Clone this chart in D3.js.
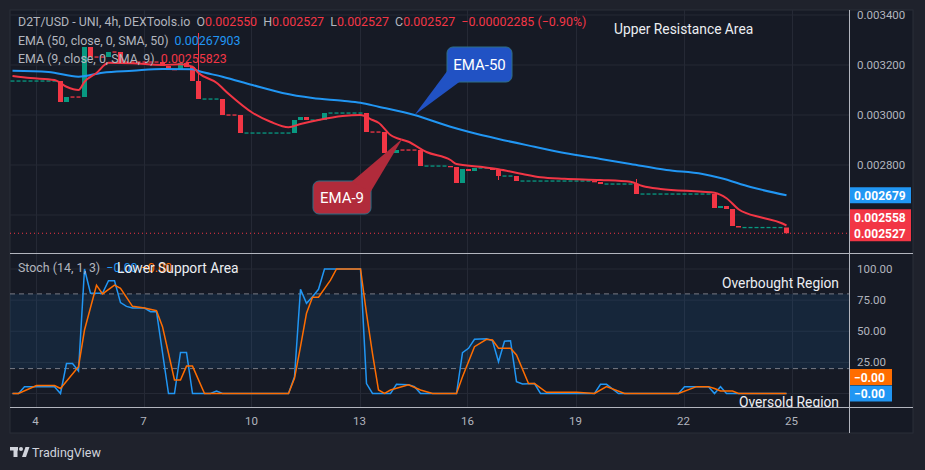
<!DOCTYPE html>
<meta charset="utf-8">
<style>
body { margin: 0; background: #1f222c; }
svg text { font-family: Roboto, "Noto Sans", sans-serif; }
</style>
<body>
<svg id="chart" width="925" height="470"></svg>
<script src="https://d3js.org/d3.v7.min.js"></script>
<script>

// ---- data (4h bars, bar 0 = day 4 00:00) ----
var firstBar = -4;
var closes = [
  0.003136, 0.003136, 0.003136, 0.003136, 0.003136, 0.003136, 0.003136, 0.003136, // -4..3
  0.003052, 0.003072, 0.003072, 0.003072, 0.003272, 0.003232, 0.003232, 0.003232, // 4..11
  0.003252, 0.003252, 0.003212, 0.003212, 0.003212, 0.003212, 0.003212, 0.003212, // 12..19
  0.003212, 0.003196, 0.003184, 0.00318, 0.003208, 0.003192, 0.003136, 0.003064,   // 20..27
  0.003064, 0.003064, 0.003064, 0.003, 0.003, 0.003, 0.002928, 0.002928,           // 28..35
  0.002928, 0.002928, 0.002928, 0.002928, 0.002928, 0.002928, 0.002928, 0.00298,   // 36..43
  0.002992, 0.00298, 0.00298, 0.00298, 0.003008, 0.003008, 0.003008, 0.003008,     // 44..51
  0.003008, 0.003008, 0.003008, 0.002932, 0.002932, 0.002932, 0.002848, 0.002848, // 52..59
  0.00286, 0.00286, 0.00286, 0.00286, 0.002796, 0.002796, 0.002796, 0.002796,      // 60..67
  0.002796, 0.002792, 0.002728, 0.002784, 0.002776, 0.002788, 0.002788, 0.002788, // 68..75
  0.00278, 0.002756, 0.002756, 0.002756, 0.002736, 0.002736, 0.002736, 0.002736,   // 76..83
  0.002736, 0.002736, 0.002736, 0.002736, 0.002736, 0.002736, 0.002736, 0.002736, // 84..91
  0.002736, 0.002732, 0.002724, 0.002724, 0.002724, 0.002724, 0.002724, 0.002724, // 92..99
  0.002684, 0.002684, 0.002684, 0.002684, 0.002684, 0.002684, 0.002684, 0.002684, // 100..107
  0.002684, 0.002684, 0.002684, 0.002684, 0.002684, 0.002628, 0.002636, 0.002624, // 108..115
  0.002556, 0.00255, 0.00255, 0.00255, 0.00255, 0.00255, 0.00255, 0.00255,         // 116..123
  0.00255, 0.002527                                                                // 124..125
];
var redDojiBars = [6, 7, 10, 11, 13, 15, 16, 17, 18, 19, 20, 32, 33, 56, 57, 61, 62, 63];
var wickBars = [27, 77, 100];
var wickEnds = [0.003328, 0.00274, 0.002744];

var ema50Bars = [-4, 2, 7, 11, 16, 21, 26, 27, 31, 36, 41, 46, 51, 54, 57, 63, 69, 72, 77, 83, 88, 94, 99, 105, 111, 114, 119, 125];
var ema50 = [0.003177, 0.003172, 0.003153, 0.003169, 0.003177, 0.003184, 0.003183, 0.003176, 0.003153, 0.00312,
  0.003088, 0.003068, 0.003057, 0.003049, 0.003033, 0.003, 0.002953, 0.002933, 0.002904, 0.002873,
  0.002848, 0.002824, 0.002804, 0.00278, 0.002764, 0.002748, 0.002712, 0.002679];

var ema9Bars = [-4, -1, 3, 5, 7, 8, 10, 12, 16, 21, 24, 26, 27, 30, 32, 36, 39, 42, 44, 47, 51, 54, 56, 57, 59, 62, 65,
  69, 70, 74, 77, 81, 84, 88, 94, 99, 101, 104, 111, 113, 115, 117, 121, 124, 125];
var ema9 = [0.003156, 0.003148, 0.00314, 0.003113, 0.0031, 0.003133, 0.003168, 0.003209, 0.003207, 0.0032,
  0.003203, 0.003193, 0.003168, 0.003129, 0.003085, 0.003009, 0.002973, 0.002951, 0.002964, 0.00298,
  0.002996, 0.003, 0.00298, 0.002969, 0.00292, 0.002893, 0.002852, 0.00282, 0.002804, 0.002793,
  0.002783, 0.002764, 0.002751, 0.002745, 0.00274, 0.002733, 0.002716, 0.002704, 0.002693, 0.002689,
  0.002667, 0.002623, 0.002589, 0.002569, 0.002558];

var kBars = [-4, -3, -2, 0, 3, 4, 5, 6, 7, 8, 9, 11, 12, 13, 14, 15, 16, 18, 19, 20, 22, 23, 24, 25, 26, 29, 30, 31, 42, 43,
  44, 45, 46, 47, 48, 54, 55, 56, 59, 60, 62, 63, 64, 70, 71, 72, 73, 75, 76, 77, 78, 79, 80, 81, 83, 84, 93, 94, 95, 97,
  107, 108, 112, 113, 114, 115, 125];
var stochK = [0, 0, 5.5, 5.5, 5.5, 0, 24, 24, 18, 100, 80.5, 80.5, 90.6, 90.6, 73, 70, 68.6, 68.6, 65.7, 65.7,
  0, 0, 33, 33, 0, 0, 2, 0, 0, 13.5, 83.7, 72.4, 77.8, 83.7, 100, 100, 8, 0, 0, 7.4,
  7, 5.5, 0, 0, 32.8, 36.3, 43.5, 44, 42.4, 25.5, 42, 42.4, 9.5, 7.6, 8, 0, 0, 7.4, 7.4, 0,
  0, 5.5, 5.5, 0, 5.5, 0, 0];

var dBars = [-4, -3, 0, 3, 4, 7, 8, 10, 11, 13, 14, 16, 18, 20, 21, 22, 23, 24, 25, 26, 28, 42, 43, 44, 45, 46, 47, 49, 50, 54,
  55, 56, 57, 58, 59, 62, 64, 66, 70, 71, 73, 75, 76, 77, 79, 80, 82, 83, 85, 90, 93, 95, 98, 107, 110, 112, 113, 114, 116, 117, 125];
var stochD = [0, 0, 6.4, 6.4, 4, 21.5, 51, 87, 80, 87, 84.5, 70, 68.6, 66.5, 53.7, 32.3, 10.8, 10.8, 22, 22,
  0, 0, 12.2, 37.6, 64.4, 77.3, 77.3, 91, 100, 100, 64.4, 32, 2.8, 0, 2.8, 7, 2.8, 0, 0, 13.5,
  37.6, 43.5, 43, 36.3, 36.3, 31, 8, 8, 1, 1, 0, 5.5, 0, 0, 5.5, 5.5, 4, 2, 2, 0, 0];

var dayLabels = [4, 7, 10, 13, 16, 19, 22, 25];
var priceTicks = [0.0026, 0.0028, 0.003, 0.0032, 0.0034];
var stochTicks = [0, 25, 50, 75, 100];

// ---- layout ----
var plotLeft = 10, plotRight = 849, frameRight = 913, plotTop = 10;
var mainBottom = 253, stochBottom = 407, frameBottom = 433;
var upColor = '#089981', downColor = '#f23645';
var blue = '#2196f3', orange = '#ff6d00';
var gridColor = '#252935', axisText = '#b2b5be', lineColor = '#b2b5be';

var svg = d3.select('#chart');

var x = d3.scaleLinear().domain([0, 125]).range([36.5, 786.5]);
var y = d3.scaleLinear().domain([0.0026, 0.0034]).range([215, 15]);
var ys = d3.scaleLinear().domain([0, 100]).range([393.5, 269]);

// frame
svg.append('rect').attr('x', 0).attr('y', 0).attr('width', 925).attr('height', 470).attr('fill', '#1f222c');
svg.append('rect').attr('x', plotLeft).attr('y', plotTop).attr('width', frameRight - plotLeft).attr('height', frameBottom - plotTop)
  .attr('fill', '#161a25').attr('stroke', '#2a2e39');

var defs = svg.append('defs');
defs.append('clipPath').attr('id', 'clipMain').append('rect')
  .attr('x', plotLeft).attr('y', plotTop).attr('width', plotRight - plotLeft).attr('height', mainBottom - plotTop);
defs.append('clipPath').attr('id', 'clipStoch').append('rect')
  .attr('x', plotLeft).attr('y', mainBottom).attr('width', plotRight - plotLeft).attr('height', stochBottom - mainBottom);

// grid
var grid = svg.append('g');
dayLabels.forEach(function(d) {
  var gx = Math.round(x((d - 4) * 6)) - 0.5;
  grid.append('line').attr('x1', gx).attr('x2', gx).attr('y1', plotTop).attr('y2', stochBottom)
    .attr('stroke', gridColor);
});
priceTicks.forEach(function(p) {
  grid.append('line').attr('x1', plotLeft).attr('x2', plotRight).attr('y1', y(p)).attr('y2', y(p)).attr('stroke', gridColor);
});
stochTicks.forEach(function(v) {
  grid.append('line').attr('x1', plotLeft).attr('x2', plotRight).attr('y1', ys(v)).attr('y2', ys(v)).attr('stroke', gridColor);
});

// ---- main pane ----
var main = svg.append('g').attr('clip-path', 'url(#clipMain)');

var bars = closes.map(function(c, i) {
  var o = i > 0 ? closes[i - 1] : c;
  var b = firstBar + i;
  var doji = Math.abs(c - o) < 1e-9;
  var col = doji ? (redDojiBars.indexOf(b) >= 0 ? downColor : upColor) : (c > o ? upColor : downColor);
  return {bar: b, open: o, close: c, doji: doji, color: col};
});

wickBars.forEach(function(b, i) {
  var d = bars[b - firstBar];
  main.append('line').attr('x1', x(b)).attr('x2', x(b))
    .attr('y1', y(d.open)).attr('y2', y(wickEnds[i])).attr('stroke', d.color).attr('stroke-width', 1);
});

main.selectAll('rect.candle').data(bars).enter().append('rect')
  .attr('class', 'candle')
  .attr('x', function(d) { return x(d.bar) - (d.doji ? 2 : 2.5); })
  .attr('width', function(d) { return d.doji ? 4 : 5; })
  .attr('y', function(d) { return d.doji ? y(d.close) - 0.6 : y(Math.max(d.open, d.close)); })
  .attr('height', function(d) { return d.doji ? 1.3 : Math.max(1.3, Math.abs(y(d.open) - y(d.close))); })
  .attr('fill', function(d) { return d.color; });

var emaLine = d3.line().curve(d3.curveMonotoneX)
  .x(function(d) { return x(d[0]); }).y(function(d) { return y(d[1]); });

main.append('path').datum(d3.zip(ema50Bars, ema50)).attr('d', emaLine)
  .attr('fill', 'none').attr('stroke', blue).attr('stroke-width', 2);
main.append('path').datum(d3.zip(ema9Bars, ema9)).attr('d', emaLine)
  .attr('fill', 'none').attr('stroke', downColor).attr('stroke-width', 2);

var lastClose = closes[closes.length - 1];
main.append('line').attr('x1', plotLeft).attr('x2', plotRight).attr('y1', y(lastClose)).attr('y2', y(lastClose))
  .attr('stroke', downColor).attr('stroke-dasharray', '1,3');

// ---- stoch pane ----
var st = svg.append('g').attr('clip-path', 'url(#clipStoch)');
st.append('rect').attr('x', plotLeft).attr('width', plotRight - plotLeft)
  .attr('y', ys(80)).attr('height', ys(20) - ys(80)).attr('fill', 'rgba(33,150,243,0.1)');
[80, 20].forEach(function(v) {
  st.append('line').attr('x1', plotLeft).attr('x2', plotRight).attr('y1', ys(v)).attr('y2', ys(v))
    .attr('stroke', '#787b86').attr('stroke-dasharray', '5,4');
});
var stLine = d3.line().x(function(d) { return x(d[0]); }).y(function(d) { return ys(d[1]); });
st.append('path').datum(d3.zip(kBars, stochK)).attr('d', stLine)
  .attr('fill', 'none').attr('stroke', blue).attr('stroke-width', 1.5);
st.append('path').datum(d3.zip(dBars, stochD)).attr('d', stLine)
  .attr('fill', 'none').attr('stroke', orange).attr('stroke-width', 1.5);

// pane separators
svg.append('line').attr('x1', plotLeft).attr('x2', frameRight).attr('y1', mainBottom + 0.5).attr('y2', mainBottom + 0.5).attr('stroke', lineColor);
svg.append('line').attr('x1', plotLeft).attr('x2', frameRight).attr('y1', stochBottom + 0.5).attr('y2', stochBottom + 0.5).attr('stroke', lineColor);
svg.append('line').attr('x1', plotRight + 0.5).attr('x2', plotRight + 0.5).attr('y1', plotTop).attr('y2', frameBottom).attr('stroke', lineColor);

// ---- axes ----
var axG = svg.append('g').attr('font-size', 11.5).attr('fill', axisText);
priceTicks.slice(1).forEach(function(p) {
  axG.append('text').attr('x', 857).attr('y', y(p) + 4).text(d3.format('.6f')(p));
});
stochTicks.slice(1).forEach(function(v) {
  axG.append('text').attr('x', 857).attr('y', ys(v) + 4).text(d3.format('.2f')(v));
});
dayLabels.forEach(function(d) {
  axG.append('text').attr('x', x((d - 4) * 6) - 1).attr('y', 425).attr('text-anchor', 'middle').text(d);
});

function priceTag(cy, w, col, label) {
  svg.append('rect').attr('x', plotRight + 1).attr('y', cy - 8).attr('width', w).attr('height', 16).attr('fill', col);
  svg.append('text').attr('x', plotRight + 5).attr('y', cy + 4.5).attr('font-size', 12).attr('font-weight', 'bold')
    .attr('fill', '#fff').text(label);
}
var lastCloseY = y(lastClose);
priceTag(y(ema50[ema50.length - 1]), 61, blue, d3.format('.6f')(ema50[ema50.length - 1]));
priceTag(Math.min(y(ema9[ema9.length - 1]), lastCloseY - 16), 61, downColor, d3.format('.6f')(ema9[ema9.length - 1]));
priceTag(lastCloseY, 61, downColor, d3.format('.6f')(lastClose));
svg.append('rect').attr('x', plotRight + 1).attr('y', lastCloseY - 9).attr('width', 61).attr('height', 2).attr('fill', downColor);
priceTag(ys(0) - 16.5, 42, orange, '\u22120.00');
priceTag(ys(0), 42, blue, '\u22120.00');

// ---- legend ----
var leg = svg.append('g').attr('font-size', 12.4);
var l1 = leg.append('text').attr('x', 18).attr('y', 26).attr('fill', '#b2b5be').attr('xml:space', 'preserve');
l1.append('tspan').text('D2T/USD - UNI, 4h, DEXTools.io  O');
l1.append('tspan').attr('fill', downColor).text('0.002550');
l1.append('tspan').text('  H');
l1.append('tspan').attr('fill', downColor).text('0.002527');
l1.append('tspan').text('  L');
l1.append('tspan').attr('fill', downColor).text('0.002527');
l1.append('tspan').text('  C');
l1.append('tspan').attr('fill', downColor).text('0.002527  \u22120.00002285 (\u22120.90%)');
var l2 = leg.append('text').attr('x', 18).attr('y', 45).attr('fill', '#b2b5be').attr('xml:space', 'preserve');
l2.append('tspan').text('EMA (50, close, 0, SMA, 50)  ');
l2.append('tspan').attr('fill', blue).text('0.00267903');
var l3 = leg.append('text').attr('x', 18).attr('y', 63).attr('fill', '#b2b5be').attr('xml:space', 'preserve');
l3.append('tspan').text('EMA (9, close, 0, SMA, 9)  ');
l3.append('tspan').attr('fill', downColor).text('0.00255823');

var l4 = leg.append('text').attr('x', 18).attr('y', 272).attr('fill', '#b2b5be').attr('xml:space', 'preserve');
l4.append('tspan').text('Stoch (14, 1, 3)  ');
l4.append('tspan').attr('fill', blue).text('\u22120.00 ');
l4.append('tspan').attr('fill', orange).text('\u22120.00');

// ---- annotations ----
var note = svg.append('g').attr('font-size', 13.8).attr('fill', '#eceef2');
note.append('text').attr('x', 614).attr('y', 34).text('Upper Resistance Area');
note.append('text').attr('x', 117).attr('y', 273).text('Lower Support Area');
note.append('text').attr('x', 839).attr('y', 288).attr('text-anchor', 'end').text('Overbought Region');
note.append('text').attr('x', 839).attr('y', 407).attr('text-anchor', 'end').attr('clip-path', 'url(#clipStoch)').text('Oversold Region');

function callout(tipBar, tipVal, bx, by, bw, bh, base, fill, label) {
  var tx = x(tipBar), ty = y(tipVal);
  var g = svg.append('g');
  g.append('rect').attr('x', bx).attr('y', by).attr('width', bw).attr('height', bh).attr('rx', 6)
    .attr('fill', fill).attr('stroke', '#2f6f86').attr('stroke-width', 1);
  g.append('path').attr('d', 'M' + base[0] + ',' + base[1] + 'L' + tx + ',' + ty + 'L' + base[2] + ',' + base[3] + 'Z')
    .attr('fill', fill);
  g.append('text').attr('x', bx + bw / 2).attr('y', by + bh / 2 + 5.5).attr('text-anchor', 'middle')
    .attr('font-size', 15).attr('fill', '#ffffff').text(label);
}
callout(63, 0.003, 447, 47, 65, 35, [448, 70, 460, 81.5], '#2152c4', 'EMA-50');
callout(61, 0.002906, 313, 181, 58, 33, [352, 181.5, 370.5, 192], '#b12b3b', 'EMA-9');

// ---- footer logo ----
var logo = svg.append('g').attr('fill', '#d1d4dc');
logo.append('rect').attr('x', 10).attr('y', 447).attr('width', 8).attr('height', 3.5);
logo.append('rect').attr('x', 13.5).attr('y', 447).attr('width', 4).attr('height', 10);
logo.append('circle').attr('cx', 21).attr('cy', 449).attr('r', 2);
logo.append('path').attr('d', 'M22,457 L25.5,447 L29.5,447 L26,457 Z');
logo.append('text').attr('x', 32).attr('y', 457).attr('font-size', 12.5).text('TradingView');

</script>
